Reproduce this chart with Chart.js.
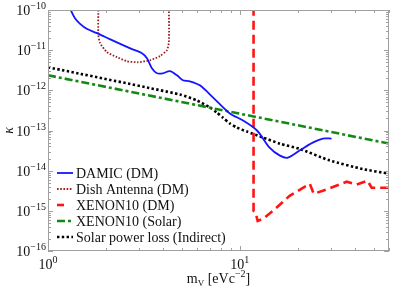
<!DOCTYPE html>
<html>
<head>
<meta charset="utf-8">
<script src="https://cdn.jsdelivr.net/npm/chart.js@4/dist/chart.umd.min.js"></script>
<style>
  body { margin: 0; background: #fff; }
  canvas { display: block; }
</style>
</head>
<body>
<canvas id="kappaChart" width="399" height="289"></canvas>
<script>
// Values (mass in eV c^-2, kappa)
const damicMass = [1.30, 1.38, 1.47, 1.60, 1.80, 2.10, 2.46, 2.74, 3.09, 3.28, 3.48, 3.70, 3.97, 4.32, 4.70, 5.05, 5.49, 6.19, 7.24, 8.87, 10.4, 12.3, 14.3, 16.2, 17.8, 20.5, 24.0, 27.1, 30.1];
const damicKappa = [1.1e-10, 6.3e-11, 4.5e-11, 3.35e-11, 2.66e-11, 1.88e-11, 1.33e-11, 1.06e-11, 8.4e-12, 6.3e-12, 3.55e-12, 2.66e-12, 2.66e-12, 2.99e-12, 2.37e-12, 1.78e-12, 1.68e-12, 1.33e-12, 6.7e-13, 2.66e-13, 1.78e-13, 1.0e-13, 3.76e-14, 2.37e-14, 2.1e-14, 3.16e-14, 5.0e-14, 6.3e-14, 6.3e-14];

const dishMass = [1.83, 1.83, 1.87, 2.03, 2.29, 2.58, 2.94, 3.40, 3.83, 4.17, 4.27, 4.27];
const dishKappa = [1.2e-10, 2.37e-11, 1.5e-11, 8.9e-12, 6.7e-12, 5.3e-12, 5.0e-12, 5.6e-12, 7.1e-12, 1.0e-11, 1.58e-11, 1.2e-10];

const xenonDmMass = [11.8, 11.8, 12.1, 12.4, 13.2, 14.9, 18.2, 23.2, 24.3, 27.1, 36.1, 40.7, 46.4, 48.7, 60];
const xenonDmKappa = [1.2e-10, 1.0e-15, 8.9e-16, 5.6e-16, 6.3e-16, 1.0e-15, 2.37e-15, 4.7e-15, 2.66e-15, 3.16e-15, 5.3e-15, 4.5e-15, 5.6e-15, 3.76e-15, 3.76e-15];

const xenonSolarMass = [1, 60];
const xenonSolarKappa = [2.37e-12, 4.73e-14];

const solarLossMass = [1, 4.87, 5.97, 6.98, 7.59, 8.15, 8.87, 9.64, 10.9, 13.2, 16.2, 20.5, 29.4, 43.7, 60];
const solarLossKappa = [3.76e-12, 7.9e-13, 5.6e-13, 3.76e-13, 2.8e-13, 2.1e-13, 1.5e-13, 1.19e-13, 9.4e-14, 6.7e-14, 4.7e-14, 3.5e-14, 1.8e-14, 1.1e-14, 8.4e-15];

const seriesNames = ['DAMIC (DM)', 'Dish Antenna (DM)', 'XENON10 (DM)', 'XENON10 (Solar)', 'Solar power loss (Indirect)'];

const xTickExps = [0, 1];
const yTickExps = [-16, -15, -14, -13, -12, -11, -10];

function toPoints(xs, ys) {
    return xs.map((x, i) => ({ x: x, y: ys[i] }));
}

const serif = '"Liberation Serif", "DejaVu Serif", serif';

// draws "10" with a raised exponent
function drawPow(ctx, exp, x, y, align) {
    const base = '10';
    const sup = exp < 0 ? '\u2212' + (-exp) : String(exp);
    ctx.font = '14px ' + serif;
    const wb = ctx.measureText(base).width;
    ctx.font = '10px ' + serif;
    const ws = ctx.measureText(sup).width;
    const x0 = align === 'right' ? x - wb - ws : x - (wb + ws) / 2;
    ctx.textAlign = 'left';
    ctx.textBaseline = 'alphabetic';
    ctx.font = '14px ' + serif;
    ctx.fillText(base, x0, y);
    ctx.font = '10px ' + serif;
    ctx.fillText(sup, x0 + wb, y - 6);
}

const framePlugin = {
    id: 'framePlugin',
    afterDraw(chart) {
        const ctx = chart.ctx;
        const area = chart.chartArea;
        const xs = chart.scales.x;
        const ys = chart.scales.y;
        ctx.save();

        // frame
        ctx.strokeStyle = '#a0a0a0';
        ctx.lineWidth = 1;
        ctx.setLineDash([]);
        ctx.strokeRect(area.left + 0.5, area.top + 0.5, area.right - area.left - 1, area.bottom - area.top - 1);

        // x ticks, inside on bottom and top
        ctx.beginPath();
        for (let e = 0; e <= 1; e++) {
            for (let m = 1; m <= 9; m++) {
                const v = m * Math.pow(10, e);
                if (v > xs.max) break;
                const px = Math.round(xs.getPixelForValue(v)) + 0.5;
                const len = m === 1 ? 5 : 3;
                ctx.moveTo(px, area.bottom);
                ctx.lineTo(px, area.bottom - len);
                ctx.moveTo(px, area.top);
                ctx.lineTo(px, area.top + len);
            }
        }
        // y ticks, inside on left and right
        for (let e = -16; e <= -10; e++) {
            for (let m = 1; m <= 9; m++) {
                if (e === -10 && m > 1) break;
                const v = m * Math.pow(10, e);
                const py = Math.round(ys.getPixelForValue(v)) + 0.5;
                const len = m === 1 ? 5 : 3;
                ctx.moveTo(area.left, py);
                ctx.lineTo(area.left + len, py);
                ctx.moveTo(area.right, py);
                ctx.lineTo(area.right - len, py);
            }
        }
        ctx.stroke();

        // tick labels
        ctx.fillStyle = '#111';
        xTickExps.forEach(e => {
            drawPow(ctx, e, xs.getPixelForValue(Math.pow(10, e)), area.bottom + 18, 'center');
        });
        yTickExps.forEach(e => {
            drawPow(ctx, e, area.left - 2, ys.getPixelForValue(Math.pow(10, e)) + 5, 'right');
        });

        // x axis title: m_V [eVc^-2]
        const parts = [
            { t: 'm', f: '14px ', dy: 0 },
            { t: 'V', f: '9px ', dy: 3 },
            { t: ' [eVc', f: '14px ', dy: 0 },
            { t: '\u22122', f: '10px ', dy: -6 },
            { t: ']', f: '14px ', dy: 0 },
        ];
        let total = 0;
        parts.forEach(p => { ctx.font = p.f + serif; p.w = ctx.measureText(p.t).width; total += p.w; });
        let cx = (area.left + area.right) / 2 - total / 2;
        const baseY = 283;
        parts.forEach(p => {
            ctx.font = p.f + serif;
            ctx.fillText(p.t, cx, baseY + p.dy);
            cx += p.w;
        });

        // y axis title
        ctx.save();
        ctx.translate(9, (area.top + area.bottom) / 2);
        ctx.rotate(-Math.PI / 2);
        ctx.textAlign = 'center';
        ctx.textBaseline = 'middle';
        ctx.font = 'italic 14px ' + serif;
        ctx.fillText('\u03ba', 0, 0);
        ctx.restore();

        // legend
        const rowY = [173, 189, 205, 221, 237];
        chart.data.datasets.forEach((ds, i) => {
            const y = rowY[i];
            ctx.strokeStyle = ds.borderColor;
            ctx.lineWidth = ds.borderWidth;
            ctx.setLineDash(ds.borderDash || []);
            ctx.lineCap = 'butt';
            ctx.beginPath();
            ctx.moveTo(57, y);
            ctx.lineTo(i === 2 ? 64 : 73, y);
            ctx.stroke();
            ctx.setLineDash([]);
            ctx.fillStyle = '#111';
            ctx.font = '14px ' + serif;
            ctx.textAlign = 'left';
            ctx.textBaseline = 'middle';
            ctx.fillText(seriesNames[i], 76, y + 1);
        });

        ctx.restore();
    }
};

const ctx = document.getElementById('kappaChart').getContext('2d');
const kappaChart = new Chart(ctx, {
    type: 'line',
    data: {
        datasets: [
            {
                label: seriesNames[0],
                data: toPoints(damicMass, damicKappa),
                borderColor: '#1515ff',
                borderWidth: 1.8,
                tension: 0.3,
            },
            {
                label: seriesNames[1],
                data: toPoints(dishMass, dishKappa),
                borderColor: '#9b1c1c',
                borderWidth: 1.8,
                borderDash: [1.6, 1.6],
                tension: 0.2,
            },
            {
                label: seriesNames[2],
                data: toPoints(xenonDmMass, xenonDmKappa),
                borderColor: '#ff1414',
                borderWidth: 2.6,
                borderDash: [9, 5],
                tension: 0,
            },
            {
                label: seriesNames[3],
                data: toPoints(xenonSolarMass, xenonSolarKappa),
                borderColor: '#128a12',
                borderWidth: 2.6,
                borderDash: [8, 3, 3, 3],
                tension: 0,
            },
            {
                label: seriesNames[4],
                data: toPoints(solarLossMass, solarLossKappa),
                borderColor: '#000000',
                borderWidth: 2.6,
                borderDash: [2.4, 2.4],
                tension: 0.2,
            },
        ],
    },
    options: {
        responsive: false,
        animation: false,
        devicePixelRatio: 1,
        layout: { padding: { left: 48, right: 10, top: 10, bottom: 38 } },
        elements: { point: { radius: 0 } },
        scales: {
            x: { type: 'logarithmic', min: 1, max: 60, display: false },
            y: { type: 'logarithmic', min: 1e-16, max: 1e-10, display: false },
        },
        plugins: {
            legend: { display: false },
            tooltip: { enabled: false },
        },
    },
    plugins: [framePlugin],
});
</script>
</body>
</html>
